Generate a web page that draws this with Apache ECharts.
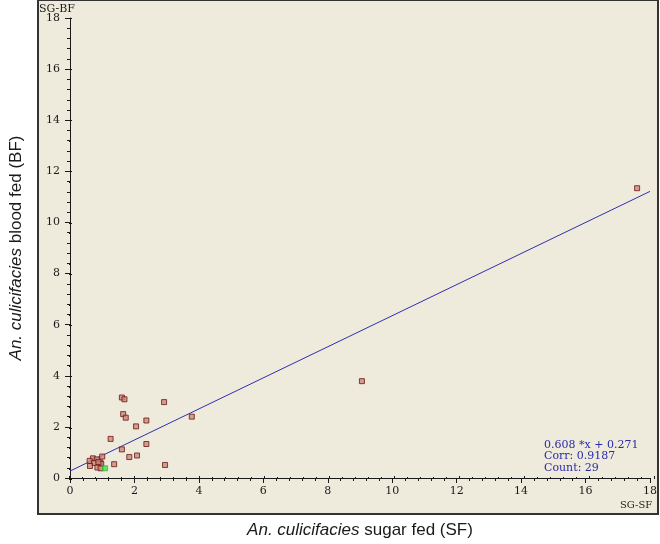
<!DOCTYPE html>
<html>
<head>
<meta charset="utf-8">
<script src="https://cdn.jsdelivr.net/npm/echarts@6/dist/echarts.min.js"></script>
<style>
  html, body { margin: 0; padding: 0; background: #fff; }
  #chart { width: 660px; height: 544px; }
</style>
</head>
<body>
<div id="chart"></div>
<script>
// SG of sugar fed (x) vs blood fed (y)
const sugarFed = [1.61, 1.69, 2.92, 1.65, 1.73, 2.37, 3.78, 2.05, 1.26, 2.37, 1.61, 2.08, 1.84, 1.00,
  2.95, 1.37, 0.71, 0.83, 0.61, 0.94, 0.97, 0.75, 0.62, 0.85, 0.95, 0.88, 17.6, 9.06];
const bloodFed = [3.15, 3.08, 2.97, 2.50, 2.36, 2.25, 2.40, 2.02, 1.53, 1.33, 1.12, 0.88, 0.82, 0.84,
  0.51, 0.54, 0.77, 0.73, 0.67, 0.61, 0.55, 0.59, 0.47, 0.41, 0.38, 0.62, 11.34, 3.79];
// highlighted point
const markedX = [1.09];
const markedY = [0.38];
// fitted line ends
const fitX = [0, 18];
const fitY = [0.271, 11.215];
const fitText = ['0.608 *x + 0.271', 'Corr: 0.9187', 'Count: 29'];

const chart = echarts.init(document.getElementById('chart'));

const tickFont = { fontFamily: 'DejaVu Serif', fontSize: 11, color: '#1a1a1a' };
const axisBase = {
  type: 'value', min: 0, max: 18, interval: 2, splitLine: { show: false }
};
const mainAxis = (extra) => Object.assign({}, axisBase, {
  axisLine: { show: true, lineStyle: { color: '#1a1a1a', width: 1 } },
  axisTick: { show: true, inside: false, length: 5, lineStyle: { color: '#1a1a1a' } },
  minorTick: { show: true, splitNumber: 5, length: 3, lineStyle: { color: '#1a1a1a' } },
  axisLabel: Object.assign({}, tickFont),
  nameTextStyle: {
    fontFamily: 'Liberation Sans', fontSize: 17, color: '#1a1a1a',
    rich: { i: { fontFamily: 'Liberation Sans', fontSize: 17, fontStyle: 'italic', color: '#1a1a1a' } }
  }
}, extra);
// second grid only adds the inner half of the ticks
const overlayAxis = (extra) => Object.assign({}, axisBase, {
  gridIndex: 1,
  axisLine: { show: false },
  axisTick: { show: true, inside: true, length: 3, lineStyle: { color: '#1a1a1a' } },
  minorTick: { show: true, splitNumber: 5, length: 2, lineStyle: { color: '#1a1a1a' } },
  axisLabel: { show: false }
}, extra);

const pts = sugarFed.map((x, i) => [x, bloodFed[i]]);
const marked = markedX.map((x, i) => [x, markedY[i]]);
const fit = fitX.map((x, i) => [x, fitY[i]]);

const option = {
  animation: false,
  backgroundColor: '#fff',
  grid: [
    { left: 69, right: 6, top: 18, bottom: 65 },
    { left: 69, right: 6, top: 18, bottom: 65 }
  ],
  xAxis: [
    mainAxis({
      axisLabel: Object.assign({}, tickFont, { margin: 8 }),
      name: '{i|An. culicifacies} sugar fed (SF)', nameLocation: 'middle', nameGap: 44
    }),
    overlayAxis({})
  ],
  yAxis: [
    mainAxis({
      axisLabel: Object.assign({}, tickFont, { margin: 10 }),
      name: '{i|An. culicifacies} blood fed (BF)', nameLocation: 'middle', nameGap: 45, nameRotate: 90
    }),
    overlayAxis({})
  ],
  graphic: [
    { type: 'rect', z: -10, shape: { x: 38, y: 0, width: 620, height: 514 },
      style: { fill: '#efebdc', stroke: '#333', lineWidth: 2 } },
    { type: 'text', left: 39, top: 4, style: { text: 'SG-BF', font: '11px "DejaVu Serif"', fill: '#1a1a1a' } },
    { type: 'text', left: 620, top: 500, style: { text: 'SG-SF', font: '10px "DejaVu Serif"', fill: '#1a1a1a' } },
    { type: 'text', left: 544, top: 439,
      style: { text: fitText.join('\n'), font: '11px "DejaVu Serif"', lineHeight: 11.5, fill: '#2a2aa8' } }
  ],
  series: [
    {
      type: 'line', data: fit, showSymbol: false, symbol: 'none',
      lineStyle: { color: '#2f2fb0', width: 1 }, z: 2
    },
    {
      type: 'scatter', data: pts, symbol: 'rect', symbolSize: 5,
      itemStyle: { color: '#c98a78', borderColor: '#6e1515', borderWidth: 1 }, z: 3
    },
    {
      type: 'scatter', data: marked, symbol: 'rect', symbolSize: 5,
      itemStyle: { color: '#44dd44', borderColor: '#33bb33', borderWidth: 1 }, z: 4
    }
  ]
};
chart.setOption(option);
</script>
</body>
</html>
